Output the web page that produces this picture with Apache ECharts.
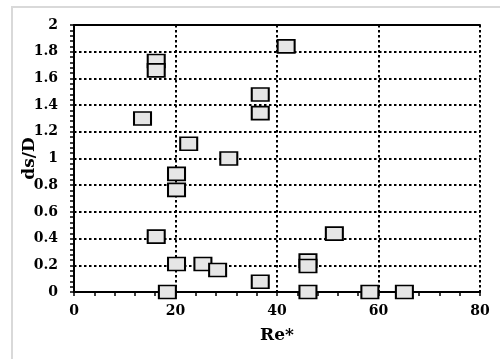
<!DOCTYPE html>
<html>
<head>
<meta charset="utf-8">
<script src="https://cdn.jsdelivr.net/npm/echarts@6/dist/echarts.min.js"></script>
<style>
html,body{margin:0;padding:0;background:#fff;}
#chart{width:500px;height:359px;}
</style>
</head>
<body>
<div id="chart"></div>
<script>
// Data
var reValues = [16.2, 16.2, 13.5, 22.6, 30.5, 20.2, 20.2, 16.2, 20.2, 25.4, 28.3, 18.4, 36.7, 36.7, 41.8, 36.7, 46.1, 46.1, 46.1, 51.3, 58.3, 65.1];
var dsDValues = [1.73, 1.66, 1.30, 1.11, 1.00, 0.885, 0.765, 0.415, 0.21, 0.21, 0.165, 0.0, 1.48, 1.34, 1.84, 0.077, 0.235, 0.195, 0.0, 0.437, 0.0, 0.0];
var xTicks = [0, 20, 40, 60, 80];
var yTicks = [0, 0.2, 0.4, 0.6, 0.8, 1, 1.2, 1.4, 1.6, 1.8, 2];

var points = reValues.map(function (x, i) { return [x, dsDValues[i]]; });

var font = 'DejaVu Serif';
var chart = echarts.init(document.getElementById('chart'));
chart.setOption({
  animation: false,
  backgroundColor: '#fff',
  graphic: [{
    type: 'rect',
    shape: { x: 12, y: 7, width: 520, height: 400 },
    style: { fill: 'none', stroke: '#d9d9d9', lineWidth: 2 },
    z: -1
  }],
  grid: { left: 74, right: 20, top: 25, bottom: 67, containLabel: false, outerBoundsMode: 'none' },
  xAxis: [{
    type: 'value',
    min: xTicks[0], max: xTicks[xTicks.length - 1], interval: 20,
    name: 'Re*', nameLocation: 'middle', nameGap: 35, nameMoveOverlap: false,
    nameTextStyle: { fontFamily: font, fontWeight: 'bold', fontSize: 17, color: '#000' },
    axisLine: { show: true, onZero: false, lineStyle: { color: '#000', width: 2 } },
    axisTick: { show: true, inside: false, length: 4, lineStyle: { color: '#000', width: 1.5 } },
    minorTick: { show: true, splitNumber: 5, length: 4, lineStyle: { color: '#000', width: 1.5 } },
    axisLabel: { fontFamily: font, fontWeight: 'bold', fontSize: 14, color: '#000', margin: 12 },
    splitLine: { show: true, lineStyle: { color: '#000', width: 2, type: [2.5, 2.5] } }
  }, {
    type: 'value', position: 'top',
    min: xTicks[0], max: xTicks[xTicks.length - 1], interval: 20,
    axisLine: { show: true, onZero: false, lineStyle: { color: '#000', width: 2 } },
    axisTick: { show: false }, axisLabel: { show: false }, splitLine: { show: false }
  }],
  yAxis: {
    type: 'value',
    min: yTicks[0], max: yTicks[yTicks.length - 1], interval: 0.2,
    name: 'ds/D', nameLocation: 'middle', nameGap: 36, nameRotate: 90, nameMoveOverlap: false,
    nameTextStyle: { fontFamily: font, fontWeight: 'bold', fontSize: 17, color: '#000' },
    axisLine: { show: true, onZero: false, lineStyle: { color: '#000', width: 2 } },
    axisTick: { show: true, inside: false, length: 4, lineStyle: { color: '#000', width: 1.5 } },
    minorTick: { show: true, splitNumber: 5, length: 4, lineStyle: { color: '#000', width: 1.5 } },
    axisLabel: { fontFamily: font, fontWeight: 'bold', fontSize: 14, color: '#000', margin: 16,
      formatter: function (v) { return String(Math.round(v * 10) / 10); } },
    splitLine: { show: true, lineStyle: { color: '#000', width: 2, type: [2.5, 2.5] } }
  },
  series: [{
    type: 'scatter',
    data: points,
    symbol: 'rect',
    symbolSize: [17, 13],
    itemStyle: { color: '#e6e6e6', borderColor: '#000', borderWidth: 1.8, opacity: 1 },
    z: 5
  }]
});
</script>
</body>
</html>
